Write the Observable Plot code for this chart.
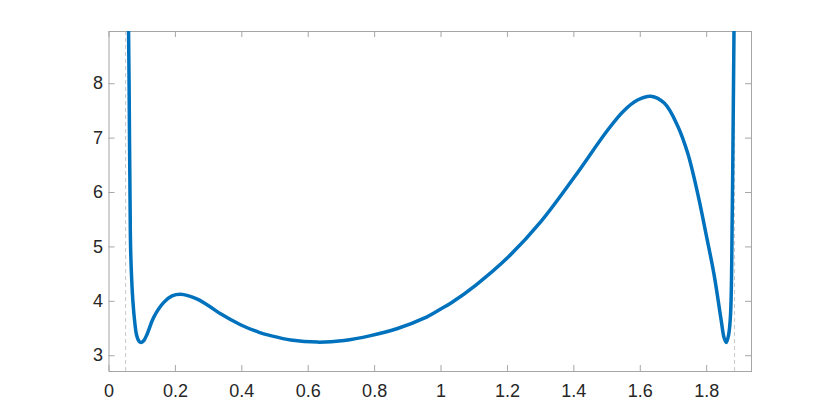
<!DOCTYPE html>
<html>
<head>
<meta charset="utf-8">
<script src="https://cdn.jsdelivr.net/npm/d3@7"></script>
<script src="https://cdn.jsdelivr.net/npm/@observablehq/plot@0.6"></script>
<style>
  html, body { margin: 0; padding: 0; background: #fff; }
  #chart svg { display: block; }
</style>
</head>
<body>
<div id="chart"></div>
<script>
const xValues = [0.0570, 0.0590, 0.0605, 0.0620, 0.0635, 0.0650, 0.0680, 0.0720, 0.0770, 0.0830,
  0.0900, 0.0970, 0.1050, 0.1150, 0.1350, 0.1650, 0.1900, 0.2160, 0.2400, 0.2660,
  0.3000, 0.3360, 0.3960, 0.4520, 0.4870, 0.5470, 0.6280, 0.7080, 0.7880, 0.8690,
  0.9490, 0.9990, 1.0300, 1.1050, 1.2000, 1.3000, 1.4010, 1.5020, 1.5500, 1.5920,
  1.6320, 1.6730, 1.7130, 1.7430, 1.7730, 1.7980, 1.8220, 1.8440, 1.8520, 1.8590,
  1.8660, 1.8720, 1.8770, 1.8800, 1.8830, 1.8850];
const yValues = [10.5, 8.9, 8.0, 6.8, 5.8, 5.0, 4.45, 4.0, 3.65, 3.38,
  3.27, 3.245, 3.28, 3.40, 3.71, 3.98, 4.10, 4.13, 4.10, 4.04,
  3.92, 3.77, 3.57, 3.43, 3.37, 3.29, 3.25, 3.28, 3.37, 3.50,
  3.69, 3.86, 3.97, 4.30, 4.80, 5.46, 6.28, 7.15, 7.50, 7.70,
  7.77, 7.64, 7.22, 6.72, 5.98, 5.24, 4.50, 3.64, 3.34, 3.245,
  3.38, 3.77, 5.61, 7.45, 9.5, 11];
const asymptotes = [0.05, 1.884];
const xTicks = [0, 0.2, 0.4, 0.6, 0.8, 1, 1.2, 1.4, 1.6, 1.8];
const yTicks = [3, 4, 5, 6, 7, 8];
const xDomain = [0, 1.935];
const yDomain = [2.71, 8.96];

const data = xValues.map((x, i) => ({x, y: yValues[i]}));

const W = 830, H = 417;
const mTop = 31, mBottom = 46, mLeft = 108.5, mRight = 79;
const innerH = H - mTop - mBottom;
const innerW = W - mLeft - mRight;
const axisColor = "#a6a6a6";
const textColor = "#262626";
const tickLen = 6;
const fmt = d => String(+d.toFixed(1));

const chart = Plot.plot({
  width: W,
  height: H,
  marginTop: mTop,
  marginBottom: mBottom,
  marginLeft: mLeft,
  marginRight: mRight,
  style: {fontFamily: "'Liberation Sans', Arial, sans-serif", fontSize: "18px", color: textColor, background: "#fff"},
  x: {domain: xDomain, axis: null},
  y: {domain: yDomain, axis: null},
  marks: [
    Plot.ruleX(asymptotes, {x: d => d, stroke: "#c8c8c8", strokeWidth: 1, strokeDasharray: "4,3"}),
    Plot.frame({stroke: axisColor, strokeWidth: 1}),
    Plot.tickX(xTicks, {x: d => d, stroke: axisColor, insetTop: innerH - tickLen}),
    Plot.tickX(xTicks, {x: d => d, stroke: axisColor, insetBottom: innerH - tickLen}),
    Plot.tickY(yTicks, {y: d => d, stroke: axisColor, insetRight: innerW - tickLen}),
    Plot.tickY(yTicks, {y: d => d, stroke: axisColor, insetLeft: innerW - tickLen}),
    Plot.axisX({ticks: xTicks, tickSize: 0, tickPadding: 13, tickFormat: fmt, label: null, fill: textColor, fontSize: 18}),
    Plot.axisY({ticks: yTicks, tickSize: 0, tickPadding: 6, tickFormat: fmt, label: null, fill: textColor, fontSize: 18}),
    Plot.line(data, {x: "x", y: "y", stroke: "#0072BD", strokeWidth: 3.5, curve: "catmull-rom", clip: true})
  ]
});
document.getElementById("chart").appendChild(chart);
</script>
</body>
</html>
